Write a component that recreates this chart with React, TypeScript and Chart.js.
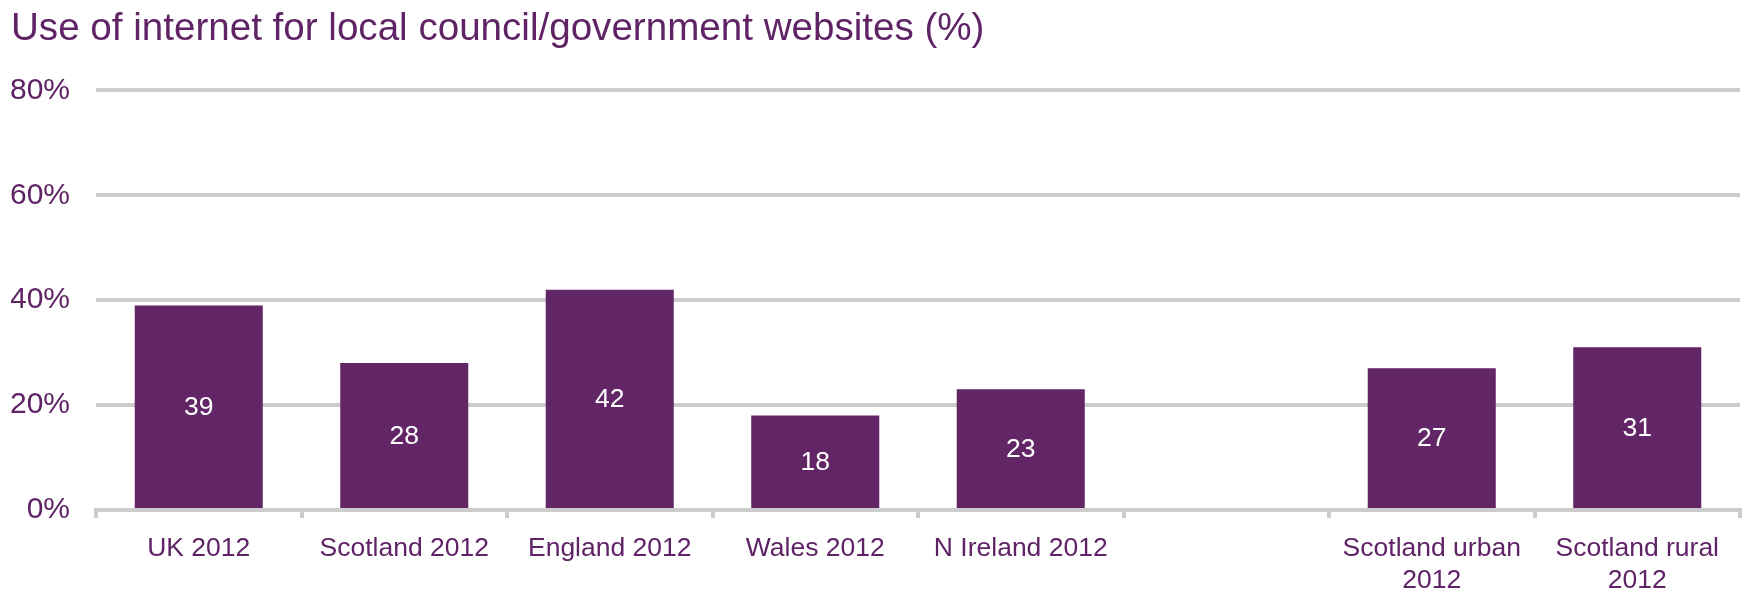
import React, { useEffect, useRef } from "react";
import { Chart, registerables } from "chart.js";

Chart.register(...registerables);

const TITLE = "Use of internet for local council/government websites (%)";
const CATEGORIES: (string | string[])[] = [
  "UK 2012",
  "Scotland 2012",
  "England 2012",
  "Wales 2012",
  "N Ireland 2012",
  "",
  ["Scotland urban", "2012"],
  ["Scotland rural", "2012"],
];
const VALUES: (number | null)[] = [39, 28, 42, 18, 23, null, 27, 31];
const Y_MIN = 0;
const Y_MAX = 80;
const Y_STEP = 20;

const PURPLE_TEXT = "#5f2366";
const BAR_COLOR = "#622565";
const GRID_COLOR = "#cccccc";
const FONT = "'Liberation Sans', Arial, Helvetica, sans-serif";

const valueLabels = {
  id: "valueLabels",
  afterDatasetsDraw(chart: any) {
    const ctx = chart.ctx;
    const meta = chart.getDatasetMeta(0);
    const data = chart.data.datasets[0].data;
    ctx.save();
    ctx.fillStyle = "#ffffff";
    ctx.font = `26.5px ${FONT}`;
    ctx.textAlign = "center";
    ctx.textBaseline = "middle";
    meta.data.forEach((el: any, i: number) => {
      const v = data[i];
      if (v === null || v === undefined) return;
      const y = (el.y + el.base) / 2 + 1;
      ctx.fillText(String(v), el.x, y);
    });
    ctx.restore();
  },
};

export default function App() {
  const ref = useRef<HTMLCanvasElement>(null);

  useEffect(() => {
    document.body.style.margin = "0";
    const canvas = ref.current;
    if (!canvas) return;
    const chart = new Chart(canvas, {
      type: "bar",
      data: {
        labels: CATEGORIES,
        datasets: [
          {
            data: VALUES,
            backgroundColor: BAR_COLOR,
            borderWidth: 0,
            categoryPercentage: 1,
            barPercentage: 0.623,
          },
        ],
      },
      options: {
        animation: false,
        responsive: false,
        maintainAspectRatio: false,
        layout: { padding: { left: 11, right: 4, top: 0, bottom: 0 } },
        plugins: {
          legend: { display: false },
          tooltip: { enabled: false },
          title: {
            display: true,
            text: TITLE,
            align: "start",
            color: PURPLE_TEXT,
            font: { family: FONT, size: 38.6, weight: "normal" },
            padding: { top: 6, bottom: 38 },
          },
        },
        scales: {
          x: {
            grid: {
              display: true,
              drawOnChartArea: false,
              drawTicks: true,
              tickLength: 8,
              color: GRID_COLOR,
              lineWidth: 4,
              offset: true,
            },
            border: { display: true, color: GRID_COLOR, width: 4 },
            ticks: {
              color: PURPLE_TEXT,
              font: { family: FONT, size: 26.5 },
              autoSkip: false,
              maxRotation: 0,
              minRotation: 0,
              padding: 15,
            },
            afterFit(scale: any) {
              scale.height = 80;
            },
          },
          y: {
            min: Y_MIN,
            max: Y_MAX,
            grid: {
              color: GRID_COLOR,
              lineWidth: 4,
              drawTicks: false,
            },
            border: { display: false },
            ticks: {
              stepSize: Y_STEP,
              color: PURPLE_TEXT,
              font: { family: FONT, size: 30 },
              padding: 26,
              callback: (v: any) => `${v}%`,
            },
            afterFit(scale: any) {
              scale.width = 85;
            },
          },
        },
      },
      plugins: [valueLabels],
    });
    return () => chart.destroy();
  }, []);

  return (
    <div style={{ width: 1744, height: 590 }}>
      <canvas ref={ref} width={1744} height={590} style={{ display: "block" }} />
    </div>
  );
}
